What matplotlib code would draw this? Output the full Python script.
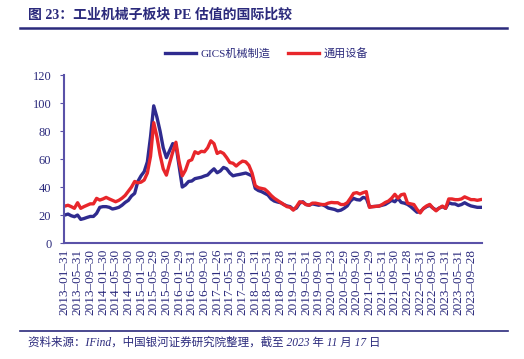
import matplotlib
matplotlib.use("Agg")
import matplotlib.pyplot as plt
import numpy as np

plt.rcParams['font.family'] = ['Liberation Serif', 'Noto Sans CJK SC']

# GICS机械制造 (monthly, 2013-01 .. 2023-11)
gics = [20, 20.7, 19.5, 18.8, 20, 16.9, 17.5, 18.3, 19, 19, 21.2, 25.5,
        26, 26, 25.5, 24.3, 24.8, 25.5, 27, 29, 30.5, 33.6, 35.5, 44,
        48, 51, 58, 76, 98, 90, 80, 68, 61, 66, 71, 70,
        55, 40, 41.5, 44, 44.3, 46, 46.5, 47, 47.9, 48.6, 51, 53,
        50.2, 51.5, 54, 53, 50, 48, 48.6, 49, 49.5, 50, 49, 47.9,
        39, 37.5, 36.7, 35.5, 34.3, 31.5, 30, 29.3, 28.8, 27.5, 26.5, 26,
        24, 25, 28.5, 29.5, 27.5, 27, 28, 27.5, 27, 27.5, 26.5, 25,
        24.5, 24, 23, 23.5, 24.8, 26.5, 30, 31.9, 31, 30.7, 32.6, 32,
        26, 26, 26.2, 26.4, 27, 27.6, 29, 30.5, 29.5, 32, 29, 28.5,
        27.6, 26, 24, 22, 22.4, 24.5, 26, 26.9, 25, 23.6, 25, 26,
        24.8, 28.8, 28, 27.9, 26.8, 27.5, 28.8, 27.5, 26.5, 26, 25.5, 25.5]

# 通用设备
tyss = [26.4, 27, 26, 24.8, 28.8, 24.8, 26, 27, 28, 28, 31.9, 30.7,
        31.5, 32.6, 31.5, 30.5, 29.5, 30.5, 32, 34, 37, 40, 44, 43,
        43.5, 45, 50, 62, 86, 76, 63, 53, 48.5, 57, 65, 72,
        58, 48, 52, 58.5, 59.5, 65.2, 64, 65.5, 65.2, 68, 73, 71,
        64, 65.2, 64, 61, 57.5, 57, 55, 57, 58.5, 58, 55.5, 50,
        41, 39.5, 39, 38.5, 36.5, 34, 32, 30.5, 29, 27.5, 26, 25.5,
        23.5, 26, 29.5, 29, 27.5, 27, 28.5, 28.5, 28, 27.5, 27.5, 28.5,
        29, 28.8, 28.8, 27.5, 27.5, 28.8, 32, 35.5, 36, 35, 36, 36.7,
        25.5, 26, 26.2, 26.4, 27.5, 29, 30, 32, 34.8, 32, 34.5, 35,
        28.5, 28, 27.5, 24, 21.5, 24.8, 26.5, 27.6, 25, 23, 25, 26.4,
        24.8, 31.5, 31.5, 31, 31, 31.5, 33, 32, 31, 31, 30.5, 31]

tick_labels = ["2013-01-31", "2013-05-31", "2013-09-30", "2014-01-30", "2014-05-30",
               "2014-09-30", "2015-01-30", "2015-05-29", "2015-09-30", "2016-01-29",
               "2016-05-31", "2016-09-30", "2017-01-26", "2017-05-31", "2017-09-29",
               "2018-01-31", "2018-05-31", "2018-09-28", "2019-01-31", "2019-05-31",
               "2019-09-30", "2020-01-23", "2020-05-29", "2020-09-30", "2021-01-29",
               "2021-05-31", "2021-09-30", "2022-01-28", "2022-05-31", "2022-09-30",
               "2023-01-31", "2023-05-31", "2023-09-28"]

navy = "#2b2a7c"
axis_c = "#5a52a8"
blue = "#2f2b8f"
red = "#e8262b"

fig = plt.figure(figsize=(5.24, 3.59), dpi=100)
ax = fig.add_axes([0.122, 0.323, 0.798, 0.468])

x = np.arange(len(gics))
ax.plot(x, gics, color=blue, lw=2.4, label="GICS机械制造")
ax.plot(x, tyss, color=red, lw=2.4, label="通用设备")

ax.set_ylim(0, 120)
ax.set_yticks(range(0, 121, 20))
ax.set_xlim(-0.3, 131.5)
ax.set_xticks(np.arange(0, 4 * len(tick_labels), 4))
ax.set_xticklabels([t.replace("-", "\u2013") for t in tick_labels], rotation=90,
                   fontsize=9.5, color=navy)
ax.set_xticks([60, 120], minor=True)
ax.tick_params(axis='x', which='major', length=0, pad=4)
ax.tick_params(axis='x', which='minor', length=3, direction='in', color=axis_c)
ax.tick_params(axis='y', length=3, direction='out', color=axis_c, labelsize=9,
               labelcolor=navy, pad=6)

for s in ['top', 'right']:
    ax.spines[s].set_visible(False)
for s in ['left', 'bottom']:
    ax.spines[s].set_color(axis_c)
    ax.spines[s].set_linewidth(1.5)

leg = fig.legend(loc='center', bbox_to_anchor=(0.508, 1 - 53 / 359), ncol=2,
                 frameon=False, fontsize=8, handlelength=2.8, columnspacing=1.6,
                 handletextpad=0.4)
for t in leg.get_texts():
    t.set_color(navy)

fig.text(28 / 524, 1 - 15 / 359, "图 23：工业机械子板块 PE 估值的国际比较",
         fontsize=10, fontweight='bold', color=navy, va='center')
fig.add_artist(plt.Line2D([20 / 524, 507 / 524], [1 - 28 / 359] * 2,
                          color=navy, lw=1.8))
fig.add_artist(plt.Line2D([20 / 524, 508 / 524], [1 - 331 / 359] * 2,
                          color=navy, lw=1.2))
fig.text(28 / 524, 1 - 343 / 359,
         "资料来源：IFind，中国银河证券研究院整理，截至 2023 年 11 月 17 日",
         fontsize=8.3, style='italic', color=navy, va='center')

fig.savefig("out.png", dpi=100)
